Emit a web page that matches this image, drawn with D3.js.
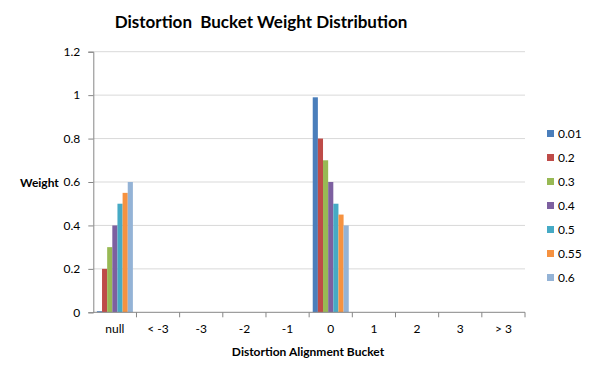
<!DOCTYPE html>
<html>
<head>
<meta charset="utf-8">
<script src="https://cdn.jsdelivr.net/npm/d3@7"></script>
<style>
  body { margin: 0; background: #fff; }
  text { font-family: Lato, "Open Sans", sans-serif; fill: #000; }
</style>
</head>
<body>
<div class="box"></div>
<script>
// DATA
const buckets = ['null', '< -3', '-3', '-2', '-1', '0', '1', '2', '3', '> 3'];
const seriesNames = ['0.01', '0.2', '0.3', '0.4', '0.5', '0.55', '0.6'];
const s001 = [0.005, 0, 0, 0, 0, 0.99, 0, 0, 0, 0];
const s02  = [0.2, 0, 0, 0, 0, 0.8, 0, 0, 0, 0];
const s03  = [0.3, 0, 0, 0, 0, 0.7, 0, 0, 0, 0];
const s04  = [0.4, 0, 0, 0, 0, 0.6, 0, 0, 0, 0];
const s05  = [0.5, 0, 0, 0, 0, 0.5, 0, 0, 0, 0];
const s055 = [0.55, 0, 0, 0, 0, 0.45, 0, 0, 0, 0];
const s06  = [0.6, 0, 0, 0, 0, 0.4, 0, 0, 0, 0];
const yTicks = [0, 0.2, 0.4, 0.6, 0.8, 1, 1.2];

const seriesValues = [s001, s02, s03, s04, s05, s055, s06];
const colors = ['#4A7EBB', '#BE4B48', '#98B954', '#7D60A0', '#46AAC5', '#F69240', '#94B3D6'];

// SETUP
const dims = {width: 596, height: 376};
const plot = {left: 93.3, right: 525, top: 51.7, bottom: 312.3};

const svg = d3.select('.box')
              .append('svg')
              .attr('width', dims.width)
              .attr('height', dims.height);

const x = d3.scaleBand()
            .domain(buckets)
            .range([plot.left, plot.right])
            .padding(0);

const gapHalf = x.bandwidth() * 0.083;
const xInner = d3.scaleBand()
                 .domain(seriesNames)
                 .range([gapHalf, x.bandwidth() - gapHalf]);

const y = d3.scaleLinear()
            .domain([0, 1.2])
            .range([plot.bottom, plot.top]);

// gridlines
svg.append('g')
   .selectAll('line')
   .data(yTicks.slice(1))
   .enter()
   .append('line')
   .attr('x1', plot.left)
   .attr('x2', plot.right)
   .attr('y1', d => y(d))
   .attr('y2', d => y(d))
   .attr('stroke', '#D9D9D9')
   .attr('stroke-width', 1);

// bars
const rows = [];
seriesValues.forEach((vals, si) => {
  vals.forEach((v, bi) => rows.push({series: seriesNames[si], bucket: buckets[bi], value: v, color: colors[si]}));
});

svg.append('g')
   .selectAll('rect')
   .data(rows.filter(d => d.value > 0))
   .enter()
   .append('rect')
   .attr('x', d => x(d.bucket) + xInner(d.series))
   .attr('width', xInner.bandwidth())
   .attr('y', d => y(d.value))
   .attr('height', d => Math.max(1, plot.bottom - y(d.value)))
   .attr('fill', d => d.color);

// axes
const yAxis = d3.axisLeft(y)
                .tickValues(yTicks)
                .tickSize(5)
                .tickFormat(d => d3.format('')(+d.toFixed(1)));

const gy = svg.append('g')
              .attr('transform', `translate(${plot.left},0)`)
              .call(yAxis);
gy.select('.domain').attr('stroke', '#868686');
gy.selectAll('.tick line').attr('stroke', '#868686');
gy.selectAll('.tick text')
  .attr('x', -13)
  .style('font-size', '12px')
  .attr('fill', '#000');

const xAxis = d3.axisBottom(x).tickSize(0);
const gx = svg.append('g')
              .attr('transform', `translate(0,${plot.bottom})`)
              .call(xAxis);
gx.select('.domain').attr('stroke', '#868686').attr('d', `M${plot.left},0H${plot.right}`);
gx.selectAll('.tick text')
  .attr('y', 12)
  .style('font-size', '12px')
  .attr('fill', '#000');

// category separators
svg.append('g')
   .selectAll('line')
   .data(buckets.map(b => x(b)).concat([plot.right]).slice(1))
   .enter()
   .append('line')
   .attr('x1', d => d).attr('x2', d => d)
   .attr('y1', plot.bottom).attr('y2', plot.bottom + 5)
   .attr('stroke', '#868686');

// titles
svg.append('text')
   .attr('x', 261)
   .attr('y', 28)
   .attr('text-anchor', 'middle')
   .style('font-size', '17px')
   .style('font-weight', 'bold')
   .style('white-space', 'pre')
   .text('Distortion  Bucket Weight Distribution');

svg.append('text')
   .attr('x', 308)
   .attr('y', 356)
   .attr('text-anchor', 'middle')
   .style('font-size', '12px')
   .style('font-weight', 'bold')
   .text('Distortion Alignment Bucket');

svg.append('text')
   .attr('x', 20)
   .attr('y', 187)
   .style('font-size', '12px')
   .style('font-weight', 'bold')
   .text('Weight');

// legend
const legend = svg.append('g')
                  .attr('transform', 'translate(547,134)');
const items = legend.selectAll('g')
                    .data(seriesNames)
                    .enter()
                    .append('g')
                    .attr('transform', (d, i) => `translate(0,${i * 24})`);
items.append('rect')
     .attr('x', 0).attr('y', -4)
     .attr('width', 7).attr('height', 7)
     .attr('fill', (d, i) => colors[i]);
items.append('text')
     .attr('x', 11)
     .attr('y', 4)
     .style('font-size', '12px')
     .text(d => d);
</script>
</body>
</html>
